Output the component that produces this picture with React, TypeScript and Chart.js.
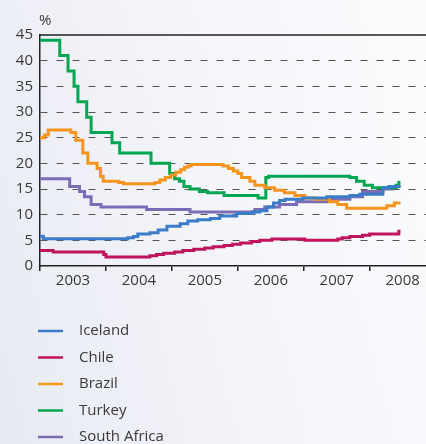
import React, { useEffect, useRef } from "react";
import { Chart, registerables } from "chart.js";

Chart.register(...registerables);

// Months counted from January 2003
const yearLabels = ["2003", "2004", "2005", "2006", "2007", "2008"];
const yearTickMonths = [0, 12, 24, 36, 48, 60];
const unitLabel = "%";
const seriesNames = ["Iceland", "Chile", "Brazil", "Turkey", "South Africa"];
const seriesColors = ["#3b7cc8", "#c0145c", "#f7941d", "#00a651", "#7a6db6"];

const iceland: [number, number][] = [
  [0, 5.8], [0.6, 5.3], [16, 5.5], [17, 5.75], [17.8, 6.25], [20, 6.5], [21.5, 7.0],
  [23.1, 7.75], [25.5, 8.25], [26.9, 8.75], [28.7, 9.0], [31, 9.25], [32.7, 9.75],
  [35.8, 10.25], [38.6, 10.5], [40, 10.75], [41.3, 11.5], [42.5, 12.25], [43.6, 12.75],
  [44.6, 13.0], [47.8, 13.25], [52.2, 13.5], [56.4, 13.75], [58.2, 14.0], [62.4, 15.25],
  [63.5, 15.5], [65.6, 15.5],
];

const chile: [number, number][] = [
  [0, 3.0], [2.4, 2.75], [11.6, 2.25], [12, 1.75], [20, 2.0], [21.2, 2.25], [22.5, 2.5],
  [24.5, 2.75], [26, 3.0], [28, 3.25], [30, 3.5], [31.5, 3.75], [33.5, 4.0], [35, 4.25],
  [36.5, 4.5], [38.5, 4.75], [40, 5.0], [42.2, 5.25], [48.2, 5.0], [54.2, 5.25], [55, 5.5],
  [56.4, 5.75], [58.7, 6.0], [60, 6.25], [65.3, 6.75], [65.6, 6.75],
];

const brazil: [number, number][] = [
  [0, 25], [0.8, 25.5], [1.5, 26.5], [5.6, 26], [6.5, 24.5], [7.8, 22], [8.7, 20],
  [10.4, 19], [11, 17.5], [11.5, 16.5], [14.3, 16.25], [15.2, 16], [20.9, 16.25],
  [21.8, 16.75], [22.8, 17.25], [23.8, 17.75], [24.7, 18.25], [25.6, 18.75], [26.3, 19.25],
  [26.9, 19.5], [27.5, 19.75], [33.3, 19.5], [34.3, 19], [35.2, 18.5], [36, 18],
  [36.7, 17.25], [38.2, 16.5], [39.1, 15.75], [40.9, 15.25], [42.7, 14.75], [44.5, 14.25],
  [46.4, 13.75], [48.2, 13.25], [50, 13], [52.7, 12.5], [54.2, 12], [55.8, 11.25],
  [63.1, 11.75], [64.5, 12.25], [65.6, 12.25],
];

const turkey: [number, number][] = [
  [0, 44], [3.6, 41], [5.1, 38], [6.2, 35], [6.9, 32], [8.5, 29], [9.3, 26], [13.1, 24],
  [14.5, 22], [20.2, 20], [23.6, 18], [24.5, 17], [25.4, 16.5], [26.2, 15.5], [27.3, 15],
  [29, 14.5], [30.5, 14.25], [33.5, 13.75], [39.7, 13.25], [41.1, 17.25], [41.6, 17.5],
  [56.4, 17.25], [57.6, 16.5], [59, 15.75], [60.5, 15.25], [64.8, 15.75], [65.3, 16.25],
  [65.6, 16.25],
];

const southAfrica: [number, number][] = [
  [0, 17], [5.4, 15.5], [7.2, 14.5], [8.1, 13.5], [9.3, 12], [11.1, 11.5], [19.4, 11],
  [27.3, 10.5], [39.1, 11], [40.9, 11.5], [43.6, 12], [46.7, 12.5], [52.2, 13],
  [56.4, 13.5], [58.7, 14.5], [62.4, 15], [64.2, 15.5], [65.6, 15.5],
];

const seriesData = [iceland, chile, brazil, turkey, southAfrica];

const FONT = "'Open Sans', 'Noto Sans', sans-serif";
const TEXT = "#3a3a3a";
const AXIS = "#222222";

const extrasPlugin = {
  id: "extras",
  afterDraw(chart: any) {
    const { ctx, chartArea } = chart;
    ctx.save();
    // top border
    ctx.strokeStyle = AXIS;
    ctx.lineWidth = 1.5;
    ctx.beginPath();
    ctx.moveTo(chartArea.left, chartArea.top);
    ctx.lineTo(chartArea.right, chartArea.top);
    ctx.stroke();
    // unit label
    ctx.font = `15px ${FONT}`;
    ctx.fillStyle = TEXT;
    ctx.textAlign = "left";
    ctx.textBaseline = "middle";
    ctx.fillText(unitLabel, chartArea.left - 1, chartArea.top - 14);
    // legend
    const startY = chartArea.bottom + 65;
    chart.data.datasets.forEach((ds: any, i: number) => {
      const y = startY + i * 26.5;
      ctx.strokeStyle = ds.borderColor;
      ctx.lineWidth = 2.5;
      ctx.beginPath();
      ctx.moveTo(38, y);
      ctx.lineTo(63, y);
      ctx.stroke();
      ctx.fillStyle = TEXT;
      ctx.fillText(ds.label, 79, y);
    });
    ctx.restore();
  },
};

export default function App() {
  const canvasRef = useRef<HTMLCanvasElement | null>(null);

  useEffect(() => {
    document.body.style.margin = "0";
    const canvas = canvasRef.current;
    if (!canvas) return;
    const chart = new Chart(canvas, {
      type: "line",
      data: {
        datasets: seriesData.map((pts, i) => ({
          label: seriesNames[i],
          data: pts.map(([x, y]) => ({ x, y })),
          borderColor: seriesColors[i],
          backgroundColor: seriesColors[i],
          borderWidth: 3,
          pointRadius: 0,
          stepped: true,
          fill: false,
        })),
      },
      options: {
        animation: false,
        responsive: false,
        devicePixelRatio: 1,
        layout: { padding: { top: 35, left: 0, right: 0, bottom: 0 } },
        plugins: {
          legend: { display: false },
          tooltip: { enabled: false },
        },
        scales: {
          x: {
            type: "linear",
            min: 0,
            max: 70.25,
            afterBuildTicks: (scale: any) => {
              scale.ticks = yearTickMonths.map((v) => ({ value: v }));
            },
            afterFit: (scale: any) => {
              scale.height = 178;
            },
            grid: {
              drawOnChartArea: false,
              drawTicks: true,
              tickLength: 5,
              color: AXIS,
              lineWidth: 1.5,
            },
            border: { display: true, color: AXIS, width: 1.5 },
            ticks: {
              autoSkip: false,
              maxRotation: 0,
              labelOffset: 33,
              padding: 1,
              color: TEXT,
              font: { family: FONT, size: 15 },
              callback: (_v: any, i: number) => yearLabels[i],
            },
          },
          y: {
            min: 0,
            max: 45,
            afterFit: (scale: any) => {
              scale.width = 40;
            },
            grid: {
              drawTicks: false,
              lineWidth: 1,
              color: (c: any) =>
                c.tick && (c.tick.value === 0 || c.tick.value === 45) ? "rgba(0,0,0,0)" : "#555555",
            },
            border: { display: true, color: AXIS, width: 1.5, dash: [7, 9] },
            ticks: {
              stepSize: 5,
              padding: 7,
              color: TEXT,
              font: { family: FONT, size: 15 },
            },
          },
        },
      },
      plugins: [extrasPlugin],
    });
    return () => chart.destroy();
  }, []);

  return (
    <div
      style={{
        width: 426,
        height: 444,
        background: "linear-gradient(75deg, #e8eaf3 0%, #f3f4f9 45%, #fcfcfe 100%)",
      }}
    >
      <canvas ref={canvasRef} width={426} height={444} style={{ display: "block", width: 426, height: 444 }} />
    </div>
  );
}
